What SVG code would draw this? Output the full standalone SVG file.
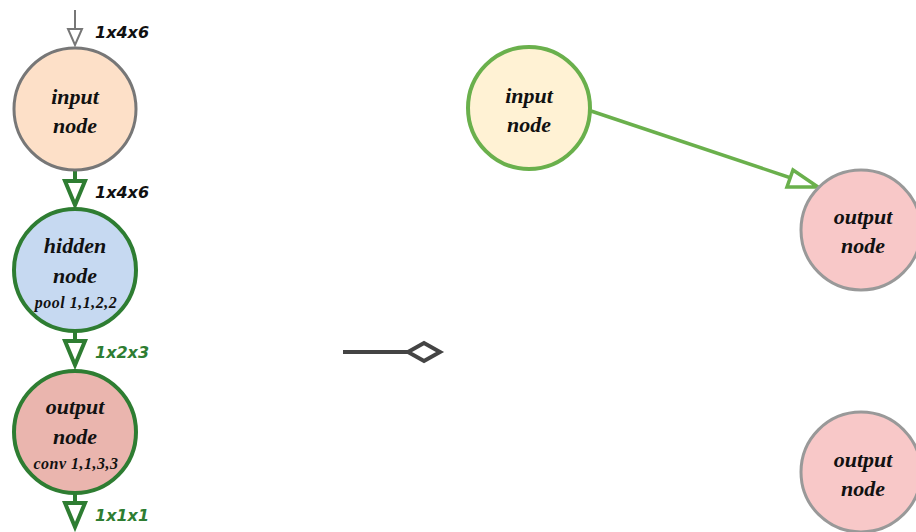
<svg xmlns="http://www.w3.org/2000/svg" width="916" height="532" viewBox="0 0 916 532">
<style>
.lbl{font-family:"Liberation Serif",serif;font-style:italic;font-weight:bold;font-size:22px;fill:#111;text-anchor:middle}
.sub{font-family:"Liberation Serif",serif;font-style:italic;font-weight:bold;font-size:16px;fill:#111;text-anchor:middle;letter-spacing:0.5px}
.dim{font-family:"DejaVu Sans",sans-serif;font-style:italic;font-size:16px;font-weight:bold}
.gr{stroke:#2e7d32;stroke-width:4;fill:none}
.grh{stroke:#2e7d32;stroke-width:4;fill:#fff;stroke-linejoin:miter}
</style>
<rect width="916" height="532" fill="#fff"/>
<g id="connectors">
  <line x1="75" y1="10" x2="75" y2="29" stroke="#777" stroke-width="2"/>
  <polygon points="68,29 82,29 75,45" fill="#fff" stroke="#777" stroke-width="2"/>
  <line class="gr" x1="75" y1="170" x2="75" y2="181"/>
  <polygon class="grh" points="65,181 85,181 75,205"/>
  <line class="gr" x1="75" y1="332" x2="75" y2="341"/>
  <polygon class="grh" points="65,341 85,341 75,365"/>
  <line class="gr" x1="75" y1="494" x2="75" y2="503"/>
  <polygon class="grh" points="65,503 85,503 75,527"/>
  <text class="dim" x="95" y="38" fill="#111">1x4x6</text>
  <text class="dim" x="95" y="198" fill="#111">1x4x6</text>
  <text class="dim" x="95" y="358" fill="#2e7d32">1x2x3</text>
  <text class="dim" x="95" y="521" fill="#2e7d32">1x1x1</text>
  <line x1="343" y1="352" x2="410" y2="352" stroke="#444" stroke-width="4"/>
  <polygon points="408,352 424,343 440,352 424,361" fill="#fff" stroke="#444" stroke-width="4"/>
  <line x1="591" y1="111" x2="797" y2="180" stroke="#6ab04c" stroke-width="3.5"/>
  <polygon points="793,170 818,187 787,187" fill="#fff" stroke="#6ab04c" stroke-width="3.5"/>
</g>
<g id="n-input-left">
  <circle cx="75" cy="109" r="61" fill="#fde0c8" stroke="#777" stroke-width="3"/>
  <text class="lbl" x="75" y="104">input</text>
  <text class="lbl" x="75" y="133">node</text>
</g>
<g id="n-hidden-left">
  <circle cx="75" cy="270" r="61" fill="#c6d9f1" stroke="#2e7d32" stroke-width="4"/>
  <text class="lbl" x="75" y="253">hidden</text>
  <text class="lbl" x="75" y="283">node</text>
  <text class="sub" x="76" y="308">pool 1,1,2,2</text>
</g>
<g id="n-output-left">
  <circle cx="75" cy="432" r="61" fill="#eab5ae" stroke="#2e7d32" stroke-width="4"/>
  <text class="lbl" x="75" y="414">output</text>
  <text class="lbl" x="75" y="444">node</text>
  <text class="sub" x="76" y="469">conv 1,1,3,3</text>
</g>
<g id="n-input-right">
  <circle cx="529" cy="108" r="61" fill="#fff2d4" stroke="#6ab04c" stroke-width="4"/>
  <text class="lbl" x="529" y="103">input</text>
  <text class="lbl" x="529" y="132">node</text>
</g>
<g id="n-output-right1">
  <circle cx="861" cy="230" r="60" fill="#f8c8c8" stroke="#999" stroke-width="3"/>
  <text class="lbl" x="863" y="224">output</text>
  <text class="lbl" x="863" y="253">node</text>
</g>
<g id="n-output-right2">
  <circle cx="861" cy="472" r="60" fill="#f8c8c8" stroke="#999" stroke-width="3"/>
  <text class="lbl" x="863" y="467">output</text>
  <text class="lbl" x="863" y="496">node</text>
</g>
</svg>
